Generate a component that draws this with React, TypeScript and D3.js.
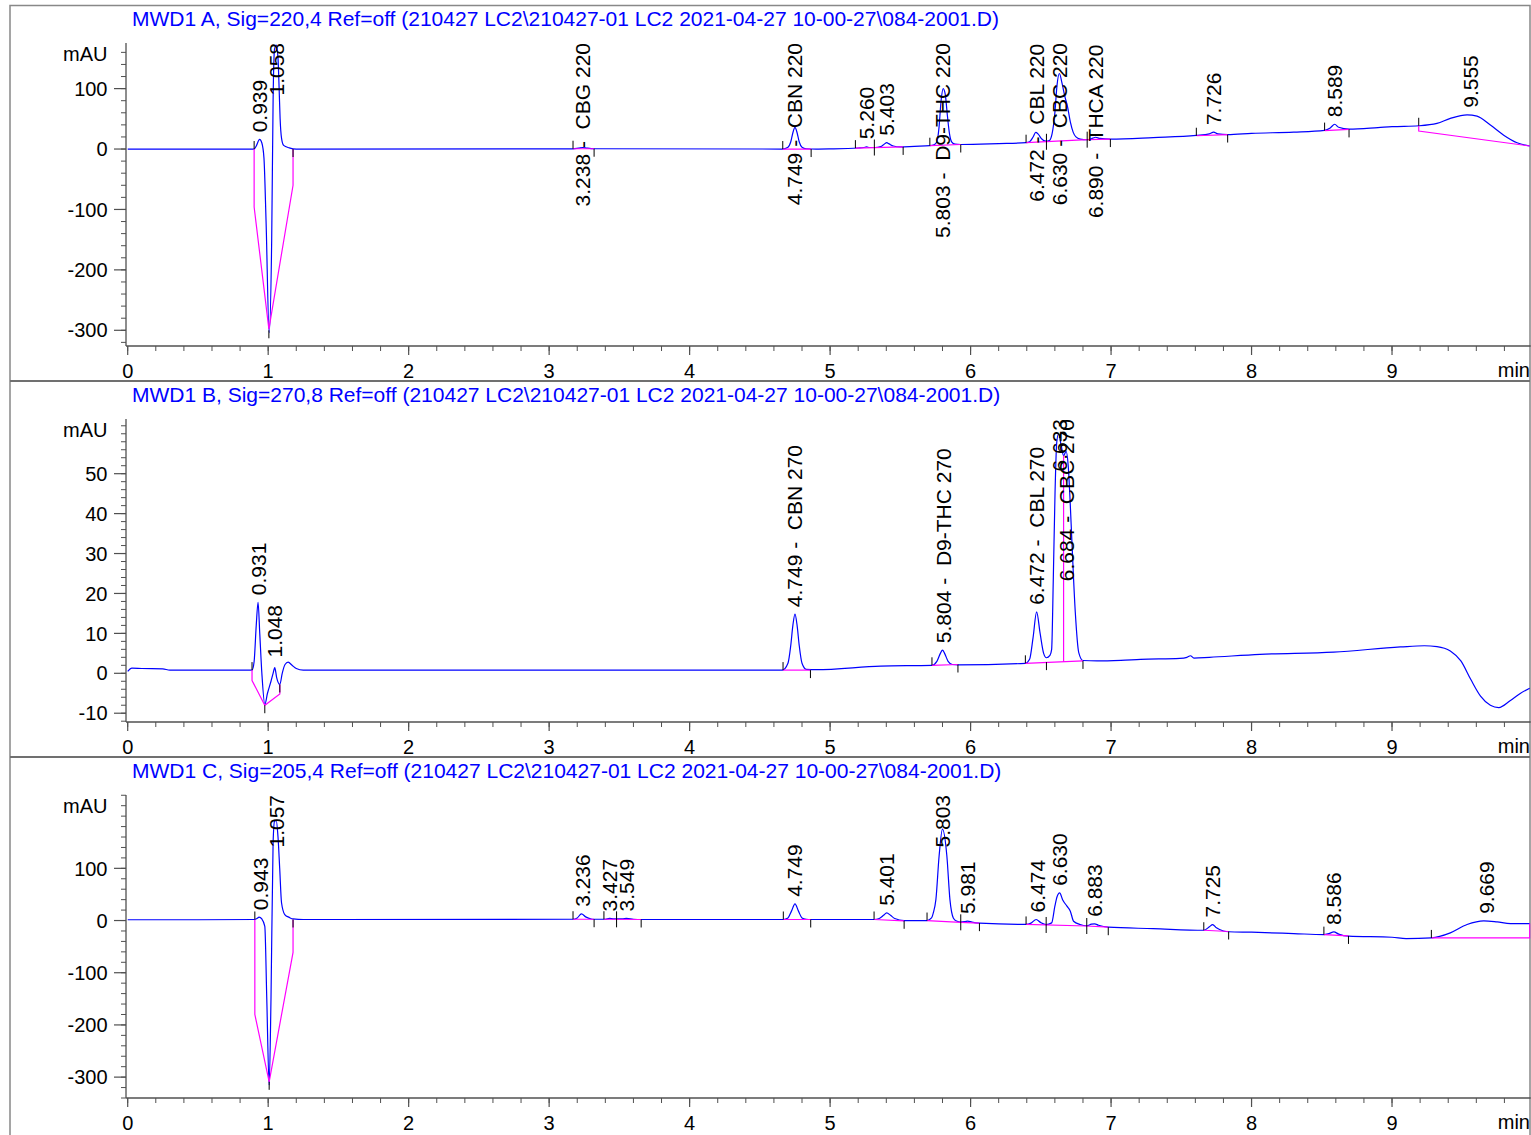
import React from "react";
import * as d3 from "d3";

// ---------- DATA ----------
const titles = [
  "MWD1 A, Sig=220,4 Ref=off (210427 LC2\\210427-01 LC2 2021-04-27 10-00-27\\084-2001.D)",
  "MWD1 B, Sig=270,8 Ref=off (210427 LC2\\210427-01 LC2 2021-04-27 10-00-27\\084-2001.D)",
  "MWD1 C, Sig=205,4 Ref=off (210427 LC2\\210427-01 LC2 2021-04-27 10-00-27\\084-2001.D)",
];

const xMajorTicks = [0, 1, 2, 3, 4, 5, 6, 7, 8, 9];
const xMinorStep = 0.2;
const xMax = 9.98;

const yDomainA: [number, number] = [-326, 175.5];
const yDomainB: [number, number] = [-12.2, 63.7];
const yDomainC: [number, number] = [-340, 240.5];
const yMajorA = [-300, -200, -100, 0, 100];
const yMajorB = [-10, 0, 10, 20, 30, 40, 50];
const yMajorC = [-300, -200, -100, 0, 100];
const yMinorStepA = 20;
const yMinorStepB = 2;
const yMinorStepC = 20;

// signal traces [time (min), mAU]
const traceA: [number, number][] = [
  [0, 0], [0.5, 0], [0.9, 0], [0.915, 5], [0.939, 16], [0.955, 10], [0.97, -15], [0.985, -120], [1.007, -304],
  [1.025, -150], [1.035, 80], [1.045, 165], [1.058, 172], [1.07, 150], [1.078, 100], [1.085, 50], [1.095, 18],
  [1.11, 6], [1.15, 2], [1.2, 0],
  [3.17, 0.3], [3.21, 1.5], [3.24, 2.5], [3.27, 1.5], [3.32, 0.5],
  [4.66, 0], [4.7, 3], [4.72, 12], [4.735, 27], [4.75, 36], [4.765, 27], [4.78, 12], [4.8, 3], [4.83, 0.5], [4.9, 0],
  [5.0, 0.3], [5.2, 1.7], [5.24, 2.5], [5.26, 3.5], [5.28, 2.5], [5.32, 2.5], [5.36, 4], [5.385, 8], [5.403, 10.5],
  [5.42, 8.5], [5.45, 5], [5.5, 3.5], [5.6, 4.5], [5.71, 5.5],
  [5.74, 7], [5.76, 12], [5.775, 35], [5.79, 80], [5.805, 100], [5.82, 90], [5.835, 55], [5.85, 25], [5.865, 12],
  [5.89, 8], [5.93, 7.5],
  [6.2, 9], [6.395, 10.5], [6.42, 12], [6.445, 20], [6.464, 27.5], [6.48, 25], [6.505, 17], [6.535, 13], [6.56, 14],
  [6.58, 25], [6.6, 60], [6.615, 105], [6.632, 125], [6.65, 110], [6.67, 88], [6.69, 70], [6.71, 45], [6.73, 28],
  [6.75, 20], [6.78, 16.5], [6.83, 15.5], [6.87, 18], [6.89, 19.5], [6.92, 17.5], [6.995, 16.5],
  [7.3, 19], [7.607, 22.5], [7.7, 25], [7.73, 28], [7.76, 25], [7.83, 24], [8.0, 26], [8.3, 28], [8.52, 31],
  [8.56, 35], [8.592, 41], [8.62, 36], [8.694, 33], [8.9, 35.5], [9.0, 37], [9.19, 38.5], [9.32, 42.4],
  [9.415, 50.7], [9.534, 56.7], [9.605, 54.5], [9.7, 39.7], [9.795, 23], [9.89, 10.4], [9.98, 5],
];

const traceB: [number, number][] = [
  [0, 0.5], [0.03, 1.3], [0.1, 1.2], [0.25, 1.1], [0.3, 0.8], [0.885, 0.8], [0.9, 3], [0.915, 12], [0.928, 17.8],
  [0.94, 10], [0.955, 0], [0.976, -7.8], [0.995, -5], [1.02, -2], [1.035, 0], [1.047, 1.4], [1.06, -1],
  [1.083, -2.8], [1.1, 0], [1.12, 2.2], [1.142, 2.8], [1.17, 2], [1.2, 1.2], [1.25, 0.8],
  [4.66, 0.8], [4.7, 2.5], [4.72, 7], [4.735, 12], [4.75, 14.8], [4.765, 12], [4.78, 7], [4.8, 2.5], [4.83, 1], [4.9, 0.9],
  [5.36, 1.8], [5.725, 2.0], [5.76, 3], [5.785, 5], [5.8, 5.8], [5.815, 5], [5.84, 3], [5.87, 2.2], [5.91, 2.1],
  [6.39, 2.5], [6.42, 3.5], [6.445, 9], [6.47, 15.4], [6.495, 10], [6.52, 5], [6.54, 3.9], [6.565, 4.5],
  [6.577, 6], [6.589, 24], [6.601, 45], [6.613, 57.7], [6.626, 60], [6.645, 57], [6.662, 54.5], [6.68, 55.6],
  [6.695, 52], [6.71, 42], [6.72, 34], [6.745, 15.5], [6.77, 5.2], [6.8, 3.2], [6.9, 3.1],
  [7.07, 3.25], [7.21, 3.5], [7.49, 3.75], [7.54, 4.0], [7.565, 4.4], [7.59, 3.8], [7.7, 4.0], [8.06, 4.75],
  [8.585, 5.3], [9.06, 6.6], [9.23, 6.9], [9.32, 6.7], [9.415, 5.6], [9.49, 3.1], [9.56, -1.5], [9.63, -5.7],
  [9.7, -8], [9.76, -8.6], [9.84, -6.9], [9.91, -5.1], [9.98, -3.75],
];

const traceC: [number, number][] = [
  [0, 1.5], [0.5, 1.5], [0.905, 2], [0.92, 4], [0.935, 6.4], [0.955, 3], [0.976, -11], [0.99, -150], [1.007, -315],
  [1.02, -150], [1.035, 149], [1.045, 190], [1.057, 192], [1.07, 160], [1.082, 100], [1.095, 34], [1.118, 11.5],
  [1.15, 6], [1.178, 3], [1.25, 2],
  [3.17, 2.5], [3.2, 5], [3.23, 12.8], [3.26, 7], [3.3, 3], [3.32, 2.5], [3.4, 2.5], [3.43, 4], [3.46, 3],
  [3.52, 3], [3.55, 4], [3.6, 2.5], [3.655, 2],
  [4.667, 2], [4.7, 5], [4.725, 18], [4.75, 32], [4.775, 18], [4.8, 5], [4.83, 2.5], [4.862, 2],
  [5.313, 2], [5.35, 4], [5.38, 10], [5.403, 14.7], [5.43, 10], [5.46, 4], [5.527, 0],
  [5.69, 0], [5.722, 5], [5.735, 15], [5.753, 40], [5.776, 124], [5.8, 175], [5.831, 124], [5.853, 40],
  [5.877, 5], [5.9, -1], [5.93, -3], [5.96, -2], [5.98, -1], [6.01, -3], [6.063, -5],
  [6.395, -7.5], [6.43, -5], [6.467, 2], [6.5, -4], [6.538, -7.7], [6.577, -4.5], [6.6, 27.5], [6.615, 45],
  [6.634, 53], [6.655, 40], [6.686, 27.5], [6.71, 18], [6.733, -1.3], [6.78, -7.7], [6.827, -10], [6.86, -7],
  [6.883, -6.3], [6.91, -9], [6.98, -12.8],
  [7.3, -15.5], [7.66, -18.6], [7.7, -12], [7.723, -7.7], [7.75, -14], [7.8, -20], [7.837, -21.5], [8.0, -22.4],
  [8.3, -25], [8.515, -27], [8.55, -25], [8.586, -21.8], [8.62, -26], [8.69, -30], [9.0, -32], [9.1, -34.6],
  [9.28, -33.3], [9.415, -23.7], [9.534, -7.7], [9.653, -0.6], [9.748, -2.6], [9.843, -5.8], [9.98, -5.8],
];

// integration baselines (polylines)
const baselinesA: [number, number][][] = [
  [[0.9, 0], [0.9, -96], [1.005, -298], [1.177, -60], [1.177, 0]],
  [[3.17, 0.5], [3.32, 0.5]],
  [[4.663, 0], [4.865, 0]],
  [[5.18, 1.5], [5.52, 3.5]],
  [[5.71, 5.5], [5.93, 7.5]],
  [[6.395, 10.5], [6.83, 15.5]],
  [[6.83, 15.5], [6.995, 16.5]],
  [[7.607, 22], [7.83, 24]],
  [[8.52, 30.5], [8.694, 32.5]],
  [[9.19, 38.5], [9.19, 29.8], [9.98, 5]],
];
const baselinesB: [number, number][][] = [
  [[0.885, 0.8], [0.885, -1.8], [0.976, -8], [1.083, -5.2], [1.083, -2.8]],
  [[4.665, 0.8], [4.86, 0.8]],
  [[5.725, 2.0], [5.91, 2.2]],
  [[6.39, 2.5], [6.8, 3.1]],
  [[6.662, 2.9], [6.662, 54.5]],
];
const baselinesC: [number, number][][] = [
  [[0.905, 2], [0.905, -180], [1.007, -309], [1.177, -61], [1.177, 2]],
  [[3.17, 2.5], [3.32, 2.5]],
  [[3.39, 2.5], [3.655, 2]],
  [[4.667, 2], [4.862, 2]],
  [[5.313, 2], [5.527, -0.5]],
  [[5.69, 0], [5.93, -3.5]],
  [[5.93, -3.5], [6.063, -5]],
  [[6.395, -7.5], [6.827, -10.5]],
  [[6.827, -10.5], [6.98, -12.8]],
  [[7.66, -18.6], [7.837, -21]],
  [[8.515, -27], [8.69, -29.5]],
  [[9.28, -33.3], [9.98, -33.3], [9.98, -5.8]],
];

// integration event marks: [time, mAU, kind] s=start(up) e=end(down) v=valley(both)
const eventsA: [number, number, string][] = [
  [0.9, 0, "s"], [1.005, -300, "e"], [1.177, 0, "e"], [3.17, 0.5, "s"], [3.32, 0.5, "e"], [4.663, 0, "s"],
  [4.865, 0, "e"], [5.18, 1.5, "s"], [5.315, 2.5, "v"], [5.52, 3.5, "e"], [5.71, 5.5, "s"], [5.93, 7.5, "e"],
  [6.395, 10.5, "s"], [6.54, 12, "v"], [6.83, 15.5, "v"], [6.995, 16.5, "e"], [7.607, 22, "s"], [7.83, 24, "e"],
  [8.52, 30.5, "s"], [8.694, 32.5, "e"], [9.19, 38.5, "s"],
];
const eventsB: [number, number, string][] = [
  [0.885, 0.8, "s"], [0.976, -8, "e"], [1.083, -2.8, "e"], [4.665, 0.8, "s"], [4.86, 0.8, "e"],
  [5.725, 2.0, "s"], [5.91, 2.2, "e"], [6.39, 2.5, "s"], [6.54, 2.8, "e"], [6.8, 3.1, "e"],
];
const eventsC: [number, number, string][] = [
  [0.905, 2, "s"], [1.007, -309, "e"], [1.177, 2, "e"], [3.17, 2.5, "s"], [3.32, 2.5, "e"], [3.39, 2.5, "s"],
  [3.48, 2.3, "v"], [3.655, 2, "e"], [4.667, 2, "s"], [4.862, 2, "e"], [5.313, 2, "s"], [5.527, -0.5, "e"],
  [5.69, 0, "s"], [5.93, -3.5, "v"], [6.063, -5, "e"], [6.395, -7.5, "s"], [6.538, -8.5, "v"],
  [6.827, -10.5, "v"], [6.98, -12.8, "e"], [7.66, -18.6, "s"], [7.837, -21, "e"], [8.515, -27, "s"],
  [8.69, -29.5, "e"], [9.28, -33.3, "s"],
];

// peak labels: [retention time, text, apex mAU]
const labelsA: [number, string, number][] = [
  [0.939, "0.939", 16], [1.058, "1.058", 172], [3.238, "3.238 -  CBG 220", 2.5], [4.749, "4.749 -  CBN 220", 36],
  [5.26, "5.260", 4.5], [5.403, "5.403", 10.5], [5.803, "5.803 -  D9-THC 220", 100],
  [6.472, "6.472 -  CBL 220", 27.5], [6.63, "6.630 -  CBC 220", 125], [6.89, "6.890 -  THCA 220", 19.5],
  [7.726, "7.726", 28], [8.589, "8.589", 41], [9.555, "9.555", 56.7],
];
const labelsB: [number, string, number][] = [
  [0.931, "0.931", 17.8], [1.048, "1.048", 2.2], [4.749, "4.749 -  CBN 270", 14.8],
  [5.804, "5.804 -  D9-THC 270", 5.8], [6.472, "6.472 -  CBL 270", 15.4], [6.633, "6.633", 60],
  [6.684, "6.684 -  CBC 270", 55.6],
];
const labelsC: [number, string, number][] = [
  [0.943, "0.943", 6.4], [1.057, "1.057", 192], [3.236, "3.236", 12.8], [3.427, "3.427", 4], [3.549, "3.549", 4],
  [4.749, "4.749", 32], [5.401, "5.401", 14.7], [5.803, "5.803", 175], [5.981, "5.981", -1], [6.474, "6.474", 2],
  [6.63, "6.630", 53], [6.883, "6.883", -6.3], [7.725, "7.725", -7.7], [8.586, "8.586", -21.8],
  [9.669, "9.669", -0.6],
];

// ---------- RENDERING ----------
const FONT = "'Liberation Sans', Arial, Helvetica, sans-serif";
const W = 1531;
const H = 1135;
const X0 = 127.7;
const X1 = 1529.7;
const Y_AXIS_X = 126;
const LABEL_SIZE = 21;
const TICK_SIZE = 20;
const TITLE_SIZE = 21;

let ctx: CanvasRenderingContext2D | null = null;
function measure(text: string, size: number): number {
  if (!ctx) {
    const c = document.createElement("canvas");
    ctx = c.getContext("2d");
  }
  if (ctx) {
    ctx.font = `${size}px ${FONT}`;
    return ctx.measureText(text).width;
  }
  return text.length * size * 0.55;
}

type PanelProps = {
  top: number;
  title: string;
  yDomain: [number, number];
  yMajor: number[];
  yMinorStep: number;
  trace: [number, number][];
  baselines: [number, number][][];
  events: [number, number, string][];
  labels: [number, string, number][];
  idx: number;
};

function Panel(p: PanelProps) {
  const axisTop = p.top + 38;
  const axisBottom = p.top + 341;
  const x = d3.scaleLinear().domain([0, xMax]).range([X0, X1]);
  const y = d3.scaleLinear().domain(p.yDomain).range([axisBottom, axisTop]);
  const line = d3
    .line<[number, number]>()
    .x((d) => x(d[0]))
    .y((d) => y(d[1]))
    .curve(d3.curveMonotoneX);
  const lin = d3
    .line<[number, number]>()
    .x((d) => x(d[0]))
    .y((d) => y(d[1]));

  const yMinor: number[] = [];
  for (let v = Math.ceil(p.yDomain[0] / p.yMinorStep) * p.yMinorStep; v <= p.yDomain[1]; v += p.yMinorStep) {
    yMinor.push(Math.round(v * 1000) / 1000);
  }
  const xMinor: number[] = d3.range(0, xMax, xMinorStep).map((v) => Math.round(v * 1000) / 1000);
  const clipId = `clip${p.idx}`;
  const axisColor = "#505050";

  return (
    <g>
      <defs>
        <clipPath id={clipId}>
          <rect x={Y_AXIS_X} y={axisTop - 2} width={X1 - Y_AXIS_X + 1} height={axisBottom - axisTop + 4} />
        </clipPath>
      </defs>
      {/* title */}
      <text x={132} y={axisTop - 17} fill="#0000ff" fontSize={TITLE_SIZE} fontFamily={FONT}>
        {p.title}
      </text>
      {/* y axis */}
      <line x1={Y_AXIS_X} x2={Y_AXIS_X} y1={axisTop} y2={axisBottom} stroke={axisColor} strokeWidth={1.3} />
      {yMinor.map((v) => (
        <line key={"ym" + v} x1={Y_AXIS_X - 5} x2={Y_AXIS_X} y1={y(v)} y2={y(v)} stroke={axisColor} strokeWidth={1} />
      ))}
      {p.yMajor.map((v) => (
        <g key={"yM" + v}>
          <line x1={Y_AXIS_X - 12} x2={Y_AXIS_X} y1={y(v)} y2={y(v)} stroke={axisColor} strokeWidth={1.2} />
          <text x={107.5} y={y(v)} dy="0.36em" textAnchor="end" fontSize={TICK_SIZE} fontFamily={FONT} fill="#000">
            {v}
          </text>
        </g>
      ))}
      <text x={107.5} y={axisTop + 17.5} textAnchor="end" fontSize={TICK_SIZE} fontFamily={FONT} fill="#000">
        mAU
      </text>
      {/* x axis */}
      <line x1={Y_AXIS_X} x2={X1 + 1} y1={axisBottom} y2={axisBottom} stroke={axisColor} strokeWidth={1.3} />
      {xMinor.map((v) => (
        <line key={"xm" + v} x1={x(v)} x2={x(v)} y1={axisBottom} y2={axisBottom + 5} stroke={axisColor} strokeWidth={1} />
      ))}
      {xMajorTicks.map((v) => (
        <g key={"xM" + v}>
          <line x1={x(v)} x2={x(v)} y1={axisBottom} y2={axisBottom + 9} stroke={axisColor} strokeWidth={1.2} />
          <text x={x(v)} y={axisBottom + 32} textAnchor="middle" fontSize={TICK_SIZE} fontFamily={FONT} fill="#000">
            {v}
          </text>
        </g>
      ))}
      <text x={1530} y={axisBottom + 31} textAnchor="end" fontSize={TICK_SIZE} fontFamily={FONT} fill="#000">
        min
      </text>
      {/* signal + baselines */}
      <g clipPath={`url(#${clipId})`}>
        <path d={line(p.trace) || ""} fill="none" stroke="#0000ff" strokeWidth={1.2} />
        {p.baselines.map((b, i) => (
          <path key={"b" + i} d={lin(b) || ""} fill="none" stroke="#ff00ff" strokeWidth={1.2} />
        ))}
      </g>
      {p.events.map(([t, v, k], i) => {
        const px = x(t);
        const py = y(v);
        const y1 = k === "e" ? py : py - 8;
        const y2 = k === "s" ? py : py + 8;
        return <line key={"e" + i} x1={px} x2={px} y1={y1} y2={y2} stroke="#000" strokeWidth={1} />;
      })}
      {/* peak labels */}
      {p.labels.map(([t, txt, v], i) => {
        const px = x(t);
        const len = measure(txt, LABEL_SIZE);
        let bottom = y(v) - 7;
        if (bottom - len < axisTop) bottom = axisTop + len;
        return (
          <text
            key={"l" + i}
            transform={`translate(${px},${bottom}) rotate(-90)`}
            dy="0.36em"
            fontSize={LABEL_SIZE}
            fontFamily={FONT}
            fill="#000"
            style={{ whiteSpace: "pre" }}
          >
            {txt}
          </text>
        );
      })}
    </g>
  );
}

export default function App() {
  const panels = [
    { top: 5, title: titles[0], yDomain: yDomainA, yMajor: yMajorA, yMinorStep: yMinorStepA, trace: traceA, baselines: baselinesA, events: eventsA, labels: labelsA },
    { top: 381, title: titles[1], yDomain: yDomainB, yMajor: yMajorB, yMinorStep: yMinorStepB, trace: traceB, baselines: baselinesB, events: eventsB, labels: labelsB },
    { top: 757, title: titles[2], yDomain: yDomainC, yMajor: yMajorC, yMinorStep: yMinorStepC, trace: traceC, baselines: baselinesC, events: eventsC, labels: labelsC },
  ];
  return (
    <svg
      width={W}
      height={H}
      viewBox={`0 0 ${W} ${H}`}
      style={{ position: "absolute", left: 0, top: 0, background: "#fff" }}
    >
      <rect x={0} y={0} width={W} height={H} fill="#fff" />
      <rect x={10} y={5.5} width={1520} height={H + 10} fill="none" stroke="#888" strokeWidth={1.5} />
      <line x1={10} x2={1530} y1={381} y2={381} stroke="#707070" strokeWidth={2} />
      <line x1={10} x2={1530} y1={757} y2={757} stroke="#707070" strokeWidth={2} />
      {panels.map((p, i) => (
        <Panel key={i} idx={i} {...p} />
      ))}
    </svg>
  );
}
